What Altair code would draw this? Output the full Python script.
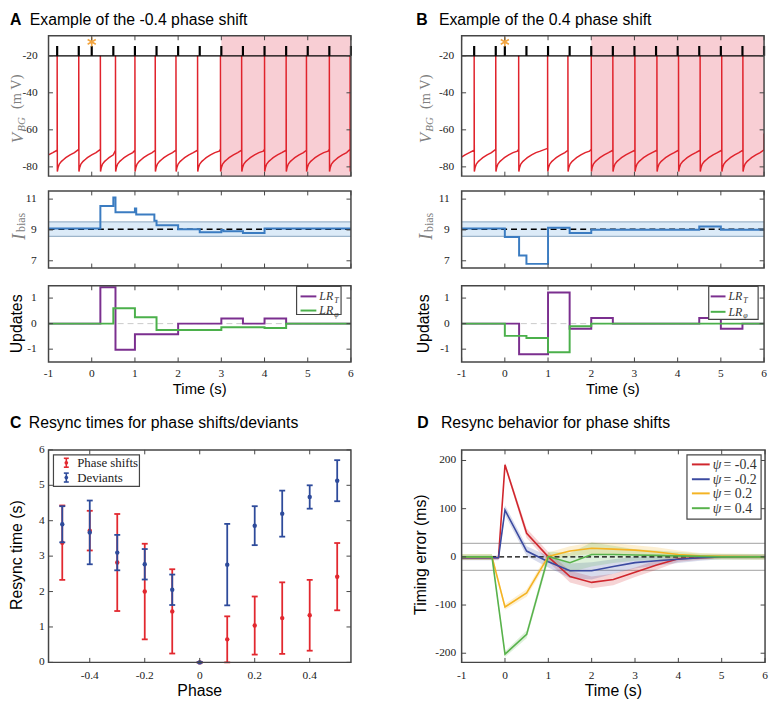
import altair as alt
import pandas as pd

SERIF = "Liberation Serif"
SANS = "Liberation Sans"
INK = "#454545"
YGRAY = "#808080"

# ---------------- data ----------------
TIME_TICKS = [-1, 0, 1, 2, 3, 4, 5, 6]
V_TICKS = [-80, -60, -40, -20]
I_TICKS = [7, 9, 11]
U_TICKS = [-1, 0, 1]
PHASE_TICKS = [-0.4, -0.2, 0, 0.2, 0.4]
RESYNC_TICKS = [0, 1, 2, 3, 4, 5, 6]
ERR_TICKS = [-200, -100, 0, 100, 200]

# membrane recovery after a spike (s after spike, mV)
REC_DT = [0.004, 0.02, 0.05, 0.1, 0.15, 0.2, 0.3, 0.4, 0.5]
REC_V = [-82.5, -80.5, -78.5, -77.0, -76.0, -75.0, -73.5, -72.3, -71.5]

A_SPIKES = [-1.3, -0.8, -0.3, 0.2, 0.55, 1.0, 1.47, 1.95, 2.45, 2.98, 3.47, 4.0, 4.5, 4.97, 5.5, 5.98]
A_PRE = [-71, -71, -70.5, -70.5, -71, -71, -71, -71, -71, -70.5, -71, -70.5, -71, -71, -70.5, -70.5]
A_END_T = []
A_END_V = []
A_METRO = [-0.8, -0.3, 0.0, 0.5, 1.0, 1.5, 2.0, 2.5, 3.0, 3.5, 4.0, 4.5, 5.0, 5.5, 6.0]
A_SHADE = [3.0, 6.0]
A_STAR = [0.0, -12.5]

B_SPIKES = [-1.22, -0.71, -0.21, 0.32, 0.99, 1.46, 2.0, 2.5, 3.01, 3.52, 4.02, 4.52, 5.02, 5.51]
B_PRE = [-71, -71, -70.5, -70.5, -70, -71, -70.5, -71, -71, -71, -71, -71, -71, -71]
B_END_T = [6.0, 6.0]
B_END_V = [-70.8, -62.0]
B_METRO = [-0.71, -0.21, 0.0, 0.5, 1.0, 1.5, 2.0, 2.5, 3.0, 3.5, 4.0, 4.5, 5.0, 5.5, 6.0]
B_SHADE = [2.0, 6.0]
B_STAR = [0.0, -12.5]

A_IB_T = [-1, 0.2, 0.5, 0.55, 1.0, 1.03, 1.45, 1.5, 2.0, 2.5, 3.0, 3.05, 3.5, 4.0, 6.0]
A_IB_V = [9.1, 10.55, 11.1, 10.15, 10.4, 10.0, 9.6, 9.3, 9.05, 8.85, 9.0, 8.92, 8.8, 9.1, 9.1]
B_IB_T = [-1, 0.0, 0.33, 0.5, 1.0, 1.5, 2.0, 4.5, 5.0, 6.0]
B_IB_V = [9.1, 8.55, 7.35, 6.8, 9.15, 8.8, 9.02, 9.22, 9.02, 9.02]
IB_BAND = [8.58, 9.52]
IB_TARGET = 9.05

A_LRT_T = [-1, 0.2, 0.55, 1.0, 2.0, 3.0, 3.5, 4.0, 4.5, 6.0]
A_LRT_V = [0, 1.42, -1.02, -0.42, 0, 0.2, 0, 0.2, 0, 0]
A_LRP_T = [-1, 0.5, 1.0, 1.5, 3.0, 4.0, 4.5, 6.0]
A_LRP_V = [0, 0.6, 0.25, -0.25, -0.14, -0.17, 0, 0]
B_LRT_T = [-1, 0.33, 1.0, 1.5, 2.0, 2.5, 4.5, 5.0, 5.5, 6.0]
B_LRT_V = [0, -1.2, 1.22, -0.2, 0.22, 0, 0.22, -0.2, 0, 0]
B_LRP_T = [-1, 0.0, 0.5, 1.0, 1.5, 2.0, 6.0]
B_LRP_V = [0, -0.48, -0.56, -1.12, -0.1, 0, 0]

PHASES = [-0.5, -0.4, -0.3, -0.2, -0.1, 0.0, 0.1, 0.2, 0.3, 0.4, 0.5]
PS_MEAN = [3.38, 3.72, 2.82, 2.0, 1.44, 0.0, 0.65, 1.04, 1.25, 1.33, 2.42]
PS_ERR = [1.05, 0.56, 1.37, 1.35, 1.19, 0.0, 0.65, 0.82, 1.01, 1.0, 0.95]
DV_MEAN = [3.9, 3.67, 3.1, 2.77, 2.05, 0.0, 2.76, 3.86, 4.2, 4.67, 5.13]
DV_ERR = [0.51, 0.9, 0.5, 0.43, 0.43, 0.0, 1.15, 0.55, 0.65, 0.33, 0.58]

D_T_NEG = [-1, -0.15, 0, 0.5, 1, 1.5, 2, 2.5, 3, 3.5, 4, 4.5, 5, 6]
D_T_POS = [-1, -0.3, 0, 0.5, 1, 1.5, 2, 2.5, 3, 3.5, 4, 4.5, 5, 6]
D_M04 = [-2, -2, 191, 49, 0, -41, -53, -47, -32, -17, -4, -2, 0, 0]
D_M04_SD = [4, 4, 5, 10, 10, 12, 12, 12, 10, 10, 6, 4, 3, 3]
D_M02 = [-2, -2, 97, 12, -10, -29, -29, -20, -12, -8, -5, -2, 0, 0]
D_M02_SD = [5, 5, 10, 10, 12, 15, 18, 15, 12, 10, 8, 6, 5, 5]
D_P02 = [0, 0, -104, -75, 1, 12, 18, 16, 14, 10, 5, 2, 1, 0]
D_P02_SD = [6, 6, 6, 8, 8, 10, 12, 12, 10, 10, 8, 6, 6, 6]
D_P04 = [0, 0, -202, -161, 1, -12, 5, 5, 4, 3, 2, 1, 0, 0]
D_P04_SD = [6, 6, 6, 8, 10, 20, 25, 18, 12, 10, 8, 6, 6, 6]
D_NAMES = ["ψ = -0.4", "ψ = -0.2", "ψ = 0.2", "ψ = 0.4"]
D_COLORS = ["#d0262d", "#3b4aa0", "#f4b323", "#58b24b"]
D_BAND = 28

RED = "#e0232c"
PINK = "#f8ced4"
BLUE_I = "#3b7cc1"
PURPLE = "#7b2f8f"
GREEN = "#4bb04b"
C_RED = "#e2282f"
C_BLUE = "#2e4b9b"
STAR = "#f2a541"

ONE = pd.DataFrame({"k": [0]})


# ---------------- helpers ----------------
def text(x, y, s, size=12, font=SERIF, style="normal", weight="normal",
         color="black", angle=0, align="left", baseline="alphabetic"):
    return alt.Chart(ONE).mark_text(
        text=s, fontSize=size, font=font, fontStyle=style, fontWeight=weight,
        color=color, angle=angle, align=align, baseline=baseline
    ).encode(x=alt.value(x), y=alt.value(y))


def seg(x1, y1, x2, y2, color, width=1.0):
    return alt.Chart(ONE).mark_rule(color=color, strokeWidth=width).encode(
        x=alt.value(x1), y=alt.value(y1), x2=alt.value(x2), y2=alt.value(y2))


def box(x1, y1, x2, y2):
    return alt.Chart(ONE).mark_rect(fill="white", stroke=INK, strokeWidth=1.2).encode(
        x=alt.value(x1), y=alt.value(y1), x2=alt.value(x2), y2=alt.value(y2))


def frame(W, H):
    return alt.Chart(ONE).mark_rect(fill="white", fillOpacity=0, stroke=INK, strokeWidth=1.5).encode(
        x=alt.value(0), y=alt.value(0), x2=alt.value(W), y2=alt.value(H))


def guides(xsc, ysc, xt, yt, W, H, xlab=False, xpad=6.3, ypad=12, L=4.5):
    """inward ticks on all four sides, frame, and tick labels placed through the scales"""
    dx = pd.DataFrame({"tk": xt, "lab": [str(v) for v in xt]})
    dy = pd.DataFrame({"tk": yt, "lab": [str(v) for v in yt]})
    xe = alt.X("tk:Q", scale=xsc, axis=None)
    ye = alt.Y("tk:Q", scale=ysc, axis=None)
    bx = alt.Chart(dx).mark_rule(color=INK, strokeWidth=1)
    by = alt.Chart(dy).mark_rule(color=INK, strokeWidth=1)
    out = [
        bx.encode(x=xe, y=alt.value(H), y2=alt.value(H - L)),
        bx.encode(x=xe, y=alt.value(0), y2=alt.value(L)),
        by.encode(y=ye, x=alt.value(0), x2=alt.value(L)),
        by.encode(y=ye, x=alt.value(W), x2=alt.value(W - L)),
        frame(W, H),
        alt.Chart(dy).mark_text(font=SERIF, fontSize=11.5, color="#222222", align="right",
                                baseline="middle").encode(y=ye, x=alt.value(-ypad), text="lab:N"),
    ]
    if xlab:
        out.append(alt.Chart(dx).mark_text(font=SERIF, fontSize=11.5, color="#222222", align="center",
                                           baseline="top").encode(x=xe, y=alt.value(H + xpad), text="lab:N"))
    return out


def trace(spikes, pre, end_t, end_v, limit):
    ts, vs = [], []
    for i, s in enumerate(spikes):
        ts += [s, s]
        vs += [pre[i], -20.0]
        nxt = spikes[i + 1] if i + 1 < len(spikes) else limit
        for dt, v in zip(REC_DT, REC_V):
            if s + dt < nxt - 0.015:
                ts.append(s + dt)
                vs.append(v)
    ts += end_t
    vs += end_v
    return pd.DataFrame({"t": ts, "v": vs, "i": list(range(len(ts)))})


W_AB = 306
TSC = alt.Scale(domain=[-1, 6], nice=False, zero=False)


def panel_v(spikes, pre, end_t, end_v, limit, metro, shade, star, letter, title,
            ytitle_x, ypad, letter_x, title_x):
    W, H = W_AB, 142
    ysc = alt.Scale(domain=[-85, -9.2], nice=False, zero=False)
    df = trace(spikes, pre, end_t, end_v, limit)
    X = lambda f: alt.X(f, type="quantitative", scale=TSC, axis=None)
    Y = lambda f: alt.Y(f, type="quantitative", scale=ysc, axis=None)
    shade_df = pd.DataFrame({"s": [shade[0]], "e": [shade[1]]})
    layers = [
        alt.Chart(shade_df).mark_rect(color=PINK, opacity=1).encode(
            x=X("s"), x2="e", y=alt.value(0), y2=alt.value(H)),
        alt.Chart(df).mark_line(color=RED, strokeWidth=1.5, clip=True).encode(
            x=X("t"), y=Y("v"), order="i:Q"),
        alt.Chart(pd.DataFrame({"v": [-20]})).mark_rule(color="black", strokeWidth=1.3).encode(y=Y("v")),
        alt.Chart(pd.DataFrame({"t": metro, "lo": [-20] * len(metro), "hi": [-14.7] * len(metro)}))
        .mark_rule(color="black", strokeWidth=2.2).encode(x=X("t"), y=Y("lo"), y2="hi"),
        alt.Chart(pd.DataFrame({"t": [star[0]], "v": [star[1]]})).mark_point(
            shape="M0,-1L0,1M-0.87,-0.5L0.87,0.5M-0.87,0.5L0.87,-0.5",
            filled=False, color=STAR, strokeWidth=1.6, size=90, opacity=1).encode(x=X("t"), y=Y("v")),
    ]
    layers += guides(TSC, ysc, TIME_TICKS, V_TICKS, W, H, ypad=ypad)
    vx, bgx, mvx = ytitle_x
    layers += [
        text(vx, 108.7, "V", size=17, style="italic", color=YGRAY, angle=270),
        text(bgx, 97.0, "BG", size=11, style="italic", color=YGRAY, angle=270),
        text(mvx, 74.0, "(m V)", size=14.5, color=YGRAY, angle=270),
        text(letter_x, -23.5, letter, size=16, font=SANS, weight="bold", baseline="top"),
        text(title_x, -23.5, title, size=16, font=SANS, baseline="top"),
    ]
    return alt.layer(*layers).properties(width=W, height=H)


def panel_i(t, v, S):
    W, H = W_AB, 78
    ysc = alt.Scale(domain=[6.53, 11.53], nice=False, zero=False)
    X = lambda f: alt.X(f, type="quantitative", scale=TSC, axis=None)
    Y = lambda f: alt.Y(f, type="quantitative", scale=ysc, axis=None)
    df = pd.DataFrame({"t": t, "v": v})
    band = pd.DataFrame({"lo": [IB_BAND[0]], "hi": [IB_BAND[1]]})
    edges = pd.DataFrame({"v": IB_BAND})
    layers = [
        alt.Chart(band).mark_rect(color="#dcebf8").encode(
            x=alt.value(0), x2=alt.value(W), y=Y("lo"), y2="hi"),
        alt.Chart(edges).mark_rule(color="#9db5ca", strokeWidth=1.2).encode(y=Y("v")),
        alt.Chart(pd.DataFrame({"v": [IB_TARGET]})).mark_rule(
            color="black", strokeWidth=1.4, strokeDash=[6, 4]).encode(y=Y("v")),
        alt.Chart(df).mark_line(color=BLUE_I, strokeWidth=2, interpolate="step-after", clip=True).encode(
            x=X("t"), y=Y("v")),
    ]
    layers += guides(TSC, ysc, TIME_TICKS, I_TICKS, W, H, ypad=12)
    layers += [
        text(-30 + S, 49.5, "I", size=18, style="italic", color=YGRAY, angle=270),
        text(-29.3 + S, 41.5, "bias", size=12, color=YGRAY, angle=270),
    ]
    return alt.layer(*layers).properties(width=W, height=H)


def panel_u(tt, tv, pt, pv, S, legend_box, legend_rows, legend_line, legend_text):
    W, H = W_AB, 77
    ysc = alt.Scale(domain=[-1.5, 1.48], nice=False, zero=False)
    X = lambda f: alt.X(f, type="quantitative", scale=TSC, axis=None)
    Y = lambda f: alt.Y(f, type="quantitative", scale=ysc, axis=None)
    layers = [
        alt.Chart(pd.DataFrame({"v": [0]})).mark_rule(
            color="#c9c9c9", strokeWidth=1, strokeDash=[6, 4]).encode(y=Y("v")),
        alt.Chart(pd.DataFrame({"t": tt, "v": tv})).mark_line(
            color=PURPLE, strokeWidth=2, interpolate="step-after", clip=True).encode(x=X("t"), y=Y("v")),
        alt.Chart(pd.DataFrame({"t": pt, "v": pv})).mark_line(
            color=GREEN, strokeWidth=2, interpolate="step-after", clip=True).encode(x=X("t"), y=Y("v")),
    ]
    layers += guides(TSC, ysc, TIME_TICKS, U_TICKS, W, H, xlab=True, xpad=6.3, ypad=12)
    bx1, by1, bx2, by2 = legend_box
    layers.append(box(bx1, by1, bx2, by2))
    for row, col, sub in zip(legend_rows, [PURPLE, GREEN], ["T", "φ"]):
        layers.append(seg(legend_line[0], row, legend_line[1], row, col, 2))
        layers.append(text(legend_text, row + 4, "LR", size=12, style="italic", color="#333333"))
        layers.append(text(legend_text + 15, row + 6.5, sub, size=8, style="italic", color="#333333"))
    layers += [
        text(-28 + S, 38.5, "Updates", size=16, font=SANS, angle=270, align="center"),
        text(W / 2, H + 32, "Time (s)", size=15, font=SANS, align="center"),
    ]
    return alt.layer(*layers).properties(width=W, height=H)


# ---------------- panels A and B ----------------
A1 = panel_v(A_SPIKES, A_PRE, A_END_T, A_END_V, 6.2, A_METRO, A_SHADE, A_STAR,
             "A", "Example of the -0.4 phase shift", (-25.5, -24.0, -27.5), 11, -39, -19)
A2 = panel_i(A_IB_T, A_IB_V, 6.0)
A3 = panel_u(A_LRT_T, A_LRT_V, A_LRP_T, A_LRP_V, 1.5,
             (251, 0.5, 296, 29), [10.7, 25], (255, 271), 274)
B1 = panel_v(B_SPIKES, B_PRE, B_END_T, B_END_V, 6.0, B_METRO, B_SHADE, B_STAR,
             "B", "Example of the 0.4 phase shift", (-30.5, -28.8, -32.5), 7.5, -46, -23)
B2 = panel_i(B_IB_T, B_IB_V, 0)
B3 = panel_u(B_LRT_T, B_LRT_V, B_LRP_T, B_LRP_V, -5,
             (250, 0.5, 300, 34), [10.7, 26.3], (252, 267), 270)

# ---------------- panel C ----------------
WC, HC = 306, 215
PSC = alt.Scale(domain=[-0.55, 0.55], nice=False, zero=False)
RSC = alt.Scale(domain=[0, 6], nice=False, zero=False)
CX = lambda f: alt.X(f, type="quantitative", scale=PSC, axis=None)
CY = lambda f: alt.Y(f, type="quantitative", scale=RSC, axis=None)


def errbars(mean, err, color):
    df = pd.DataFrame({"p": PHASES, "m": mean,
                       "lo": [m - e for m, e in zip(mean, err)],
                       "hi": [m + e for m, e in zip(mean, err)]})
    base = alt.Chart(df)
    return [
        base.mark_rule(color=color, strokeWidth=1.8).encode(x=CX("p"), y=CY("lo"), y2="hi"),
        base.mark_rule(color=color, strokeWidth=1.8, xOffset=-3, x2Offset=3).encode(
            x=CX("p"), x2="p", y=CY("lo")),
        base.mark_rule(color=color, strokeWidth=1.8, xOffset=-3, x2Offset=3).encode(
            x=CX("p"), x2="p", y=CY("hi")),
        base.mark_circle(color=color, size=20, opacity=1).encode(x=CX("p"), y=CY("m")),
    ]


c_layers = errbars(PS_MEAN, PS_ERR, C_RED) + errbars(DV_MEAN, DV_ERR, C_BLUE)
c_layers += guides(PSC, RSC, PHASE_TICKS, RESYNC_TICKS, WC, HC, xlab=True, xpad=7.6, ypad=4)
c_layers.append(box(5, 5, 92, 37))
for row, col, lab in zip([13, 28], [C_RED, C_BLUE], ["Phase shifts", "Deviants"]):
    c_layers += [
        seg(18, row - 4.5, 18, row + 4.5, col, 1.6),
        seg(15.5, row - 4.5, 20.5, row - 4.5, col, 1.6),
        seg(15.5, row + 4.5, 20.5, row + 4.5, col, 1.6),
        alt.Chart(ONE).mark_circle(color=col, size=14, opacity=1).encode(
            x=alt.value(18), y=alt.value(row)),
        text(29, row + 4.5, lab, size=13, color="#222222"),
    ]
c_layers += [
    text(-39, -35, "C", size=16, font=SANS, weight="bold", baseline="top"),
    text(-20, -35, "Resync times for phase shifts/deviants", size=16, font=SANS, baseline="top"),
    text(-27.3, 106.5, "Resync time (s)", size=16, font=SANS, angle=270, align="center"),
    text(WC / 2, HC + 34.5, "Phase", size=16, font=SANS, align="center"),
]
C = alt.layer(*c_layers).properties(width=WC, height=HC)

# ---------------- panel D ----------------
WD, HD = 307, 215
ESC = alt.Scale(domain=[-219, 222], nice=False, zero=False)
DX = lambda f: alt.X(f, type="quantitative", scale=TSC, axis=None)
DY = lambda f: alt.Y(f, type="quantitative", scale=ESC, axis=None, stack=None)

rows = []
for name, tt, mm, sd in zip(D_NAMES, [D_T_NEG, D_T_NEG, D_T_POS, D_T_POS],
                            [D_M04, D_M02, D_P02, D_P04],
                            [D_M04_SD, D_M02_SD, D_P02_SD, D_P04_SD]):
    for t, m, s in zip(tt, mm, sd):
        rows.append({"s": name, "t": t, "m": m, "lo": m - s, "hi": m + s})
ddf = pd.DataFrame(rows)
dcol = alt.Color("s:N", scale=alt.Scale(domain=D_NAMES, range=D_COLORS), legend=None)

d_layers = [
    alt.Chart(pd.DataFrame({"v": [D_BAND, -D_BAND]})).mark_rule(
        color="#b4b4b4", strokeWidth=1.3).encode(y=DY("v")),
    alt.Chart(ddf).mark_area(opacity=0.2).encode(x=DX("t"), y=DY("lo"), y2="hi", color=dcol),
    alt.Chart(pd.DataFrame({"v": [0]})).mark_rule(
        color="black", strokeWidth=1.3, strokeDash=[5, 3]).encode(y=DY("v")),
    alt.Chart(ddf).mark_line(strokeWidth=1.6).encode(x=DX("t"), y=DY("m"), color=dcol),
]
d_layers += guides(TSC, ESC, TIME_TICKS, ERR_TICKS, WD, HD, xlab=True, xpad=7.6, ypad=5.5)
d_layers.append(box(228, 5, 303, 70))
for row, col, name in zip([14.7, 29.7, 44, 59], D_COLORS, D_NAMES):
    d_layers += [
        seg(233, row, 251, row, col, 2),
        text(254, row + 4.5, name[0], size=14, style="italic", color="#333333"),
        text(265, row + 4.5, name[2:], size=14, color="#333333"),
    ]
d_layers += [
    text(-45, -35, "D", size=16, font=SANS, weight="bold", baseline="top"),
    text(-21, -35, "Resync behavior for phase shifts", size=16, font=SANS, baseline="top"),
    text(-36, 106, "Timing error (ms)", size=16, font=SANS, angle=270, align="center"),
    text(WD / 2, HD + 34.5, "Time (s)", size=16, font=SANS, align="center"),
]
D = alt.layer(*d_layers).properties(width=WD, height=HD)


# ---------------- assemble (flat 2-column grid with spacer rows) ----------------
def spacer(h):
    return alt.Chart(ONE).mark_point(opacity=0).encode(
        x=alt.value(0), y=alt.value(0)).properties(width=W_AB, height=h)


cells = [A1, B1, spacer(15), spacer(15), A2, B2, spacer(18), spacer(18),
         A3, B3, spacer(89), spacer(89), C, D]
chart = alt.concat(*cells, columns=2, spacing={"row": 0, "column": 112}, bounds="flush").properties(
    padding=0, background="white"
).configure_view(stroke=None).configure_axis(grid=False)

chart.save("out.html", embed_options={"renderer": "svg", "actions": False})
